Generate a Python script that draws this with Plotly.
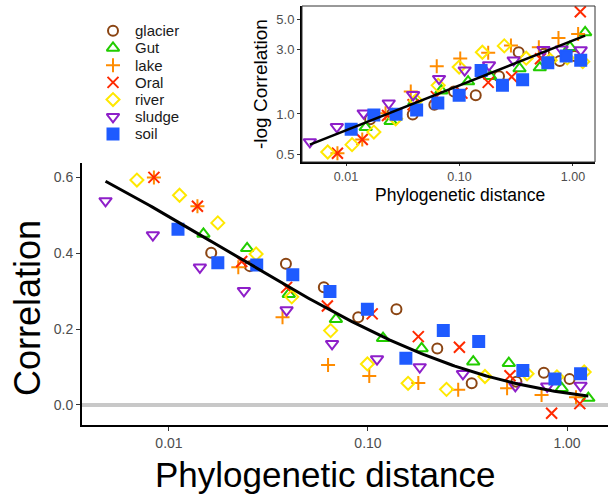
import numpy as np
import plotly.graph_objects as go

# ---------------- data ----------------
categories = ["glacier", "Gut", "lake", "Oral", "river", "sludge", "soil"]

glacier_dist = [0.0163, 0.0255, 0.0387, 0.060, 0.0893, 0.139, 0.223, 0.332, 0.557, 0.765, 1.03]
glacier_corr = [0.401, 0.366, 0.372, 0.310, 0.231, 0.252, 0.149, 0.057, 0.061, 0.085, 0.068]

gut_dist = [0.0149, 0.0247, 0.040, 0.069, 0.119, 0.186, 0.338, 0.51, 0.94, 1.28]
gut_corr = [0.451, 0.413, 0.292, 0.226, 0.176, 0.149, 0.114, 0.110, 0.044, 0.018]

lake_dist = [0.0084, 0.0139, 0.0223, 0.0372, 0.063, 0.1015, 0.179, 0.284, 0.50, 0.745, 1.11]
lake_corr = [0.600, 0.524, 0.363, 0.231, 0.105, 0.076, 0.058, 0.040, 0.044, 0.026, 0.020]

oral_dist = [0.0084, 0.0139, 0.0232, 0.039, 0.0625, 0.105, 0.179, 0.288, 0.517, 0.837, 1.16]
oral_corr = [0.600, 0.524, 0.378, 0.310, 0.261, 0.240, 0.180, 0.152, 0.077, -0.022, 0.0033]

river_dist = [0.0069, 0.0113, 0.0176, 0.0274, 0.0414, 0.0649, 0.0993, 0.159, 0.248, 0.387, 0.63, 0.89, 1.22]
river_corr = [0.593, 0.553, 0.480, 0.398, 0.285, 0.196, 0.108, 0.057, 0.041, 0.075, 0.082, 0.074, 0.087]

sludge_dist = [0.0048, 0.0083, 0.0143, 0.0238, 0.039, 0.066, 0.111, 0.182, 0.30, 0.55, 0.795, 1.17]
sludge_corr = [0.538, 0.448, 0.363, 0.301, 0.250, 0.161, 0.121, 0.100, 0.082, 0.050, 0.049, 0.051]

soil_dist = [0.0111, 0.0176, 0.0276, 0.0419, 0.0644, 0.0993, 0.155, 0.239, 0.36, 0.60, 0.87, 1.17]
soil_corr = [0.463, 0.375, 0.369, 0.343, 0.299, 0.252, 0.123, 0.196, 0.167, 0.091, 0.068, 0.082]

# fitted curves: log10(-ln C) as polynomial in log10(distance)
main_fit_coef = [-0.01556, 0.3169, 0.5411]
inset_fit_coef = [0.333, 0.5453]

main_xticks = [0.01, 0.1, 1.0]
main_xticktext = ["0.01", "0.10", "1.00"]
main_yticks = [0.0, 0.2, 0.4, 0.6]
main_yticktext = ["0.0", "0.2", "0.4", "0.6"]
inset_yticks = [0.5, 1.0, 3.0, 5.0]
inset_yticktext = ["0.5", "1.0", "3.0", "5.0"]

dist = dict(zip(categories, [glacier_dist, gut_dist, lake_dist, oral_dist, river_dist, sludge_dist, soil_dist]))
corr = dict(zip(categories, [glacier_corr, gut_corr, lake_corr, oral_corr, river_corr, sludge_corr, soil_corr]))

# ---------------- styles ----------------
style = {
    "glacier": dict(symbol="circle-open", size=10, color="#8B4513"),
    "Gut": dict(symbol="triangle-up-open", size=11, color="#22CC00"),
    "lake": dict(symbol="cross-thin-open", size=10, color="#FF8C00"),
    "Oral": dict(symbol="x-thin-open", size=11, color="#FF2A00"),
    "river": dict(symbol="diamond-open", size=10, color="#FFE800"),
    "sludge": dict(symbol="triangle-down-open", size=11, color="#8E1FC9"),
    "soil": dict(symbol="square", size=11, color="#1F5BFF"),
}

W, H = 608, 495
def fx(p):
    return p / W
def fy(p):
    return 1 - p / H

FONT = "Liberation Sans, Arial, sans-serif"
TICKC = "#4d4d4d"

fig = go.Figure()

def marker(cat):
    s = style[cat]
    return dict(symbol=s["symbol"], size=s["size"], color=s["color"],
                line=dict(color=s["color"], width=2))

for cat in categories:
    d = np.array(dist[cat])
    c = np.array(corr[cat])
    fig.add_trace(go.Scatter(x=d, y=c, mode="markers", marker=marker(cat),
                             xaxis="x", yaxis="y", showlegend=False, name=cat))
    pos = c > 0
    fig.add_trace(go.Scatter(x=d[pos], y=-np.log(c[pos]), mode="markers", marker=marker(cat),
                             xaxis="x2", yaxis="y2", showlegend=False, name=cat))

all_d = np.concatenate([dist[c] for c in categories])
grid = np.logspace(np.log10(all_d.min()), np.log10(all_d.max()), 200)
main_curve = np.exp(-10 ** np.polyval(main_fit_coef, np.log10(grid)))
inset_curve = 10 ** np.polyval(inset_fit_coef, np.log10(grid))
fig.add_trace(go.Scatter(x=grid, y=main_curve, mode="lines", line=dict(color="black", width=3),
                         xaxis="x", yaxis="y", showlegend=False, hoverinfo="skip"))
fig.add_trace(go.Scatter(x=grid, y=inset_curve, mode="lines", line=dict(color="black", width=2.5),
                         xaxis="x2", yaxis="y2", showlegend=False, hoverinfo="skip"))

# custom legend
for i, cat in enumerate(categories):
    fig.add_trace(go.Scatter(x=[20], y=[i], mode="markers", marker=marker(cat),
                             xaxis="x3", yaxis="y3", showlegend=False, hoverinfo="skip"))

annotations = []
for i, cat in enumerate(categories):
    annotations.append(dict(x=40, y=i, xref="x3", yref="y3", text=cat, showarrow=False,
                            xanchor="left", yanchor="middle",
                            font=dict(family=FONT, size=15, color="#1a1a1a")))

annotations += [
    dict(x=fx(27), y=fy(308), xref="paper", yref="paper", text="Correlation", textangle=-90,
         showarrow=False, xanchor="center", yanchor="middle", font=dict(family=FONT, size=36, color="black")),
    dict(x=fx(325), y=fy(474), xref="paper", yref="paper", text="Phylogenetic distance",
         showarrow=False, xanchor="center", yanchor="middle", font=dict(family=FONT, size=35, color="black")),
    dict(x=fx(261), y=fy(84), xref="paper", yref="paper", text="-log Correlation", textangle=-90,
         showarrow=False, xanchor="center", yanchor="middle", font=dict(family=FONT, size=19, color="black")),
    dict(x=fx(460), y=fy(195), xref="paper", yref="paper", text="Phylogenetic distance",
         showarrow=False, xanchor="center", yanchor="middle", font=dict(family=FONT, size=17.5, color="black")),
]

def axis_common(size, ticklen):
    return dict(showgrid=False, showline=True, linecolor="black", ticks="outside",
                ticklen=ticklen, tickcolor="#333333", tickwidth=1,
                tickfont=dict(family=FONT, size=size, color=TICKC), automargin=False)

fig.update_layout(
    width=W, height=H,
    margin=dict(l=0, r=0, t=0, b=0),
    paper_bgcolor="white", plot_bgcolor="white",
    font=dict(family=FONT),
    showlegend=False,
    xaxis=dict(type="log", domain=[fx(82), 1.0], range=[-2.437, 0.206], anchor="y",
               tickvals=main_xticks, ticktext=main_xticktext, zeroline=False, linewidth=2,
               **axis_common(14, 4)),
    yaxis=dict(domain=[fy(425), fy(163)], range=[-0.053, 0.638], anchor="x",
               tickvals=main_yticks, ticktext=main_yticktext, zeroline=True,
               zerolinecolor="#c8c8c8", zerolinewidth=4, linewidth=2, **axis_common(14, 4)),
    xaxis2=dict(type="log", domain=[fx(302), fx(595)], range=[-2.388, 0.194], anchor="y2",
                tickvals=main_xticks, ticktext=main_xticktext, zeroline=False, linewidth=2,
                **axis_common(12.5, 2)),
    yaxis2=dict(type="log", domain=[fy(162), fy(6)], range=[-0.356, 0.8], anchor="x2",
                tickvals=inset_yticks, ticktext=inset_yticktext, zeroline=False, linewidth=2,
                **axis_common(13, 3)),
    xaxis3=dict(domain=[fx(93), fx(193)], range=[0, 100], visible=False, anchor="y3", fixedrange=True),
    yaxis3=dict(domain=[fy(142.6), fy(22.1)], range=[6.5, -0.5], visible=False, anchor="x3", fixedrange=True),
    annotations=annotations,
    shapes=[dict(type="rect", xref="x2 domain", yref="y2 domain", x0=0, x1=1, y0=0, y1=1,
                 line=dict(color="#333333", width=1), layer="above")],
)

fig.write_html("out.html")
